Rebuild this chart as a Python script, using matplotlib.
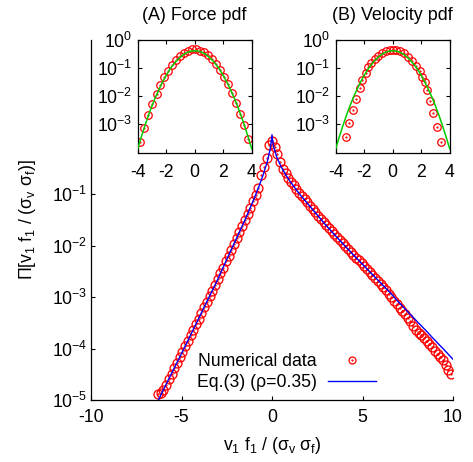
import numpy as np
import matplotlib
matplotlib.use("Agg")
import matplotlib.pyplot as plt
from matplotlib.lines import Line2D
from matplotlib.ticker import NullLocator

plt.rcParams['font.family'] = ['Liberation Sans', 'DejaVu Sans']
plt.rcParams['font.size'] = 12.7
plt.rcParams['axes.unicode_minus'] = False
plt.rcParams['mathtext.default'] = 'regular'

# main panel, log10 of the pdf
# bins are evenly spaced (0.15) from -6.3 to 9.9
bin_x = np.round(np.arange(-42, 67) * 0.15, 2)
data_log = [-4.88, -4.87, -4.80, -4.70, -4.595, -4.49, -4.38, -4.275, -4.17, -4.06,
            -3.955, -3.85, -3.745, -3.635, -3.525, -3.42, -3.31, -3.20, -3.095, -2.985,
            -2.875, -2.765, -2.655, -2.54, -2.43, -2.31, -2.20, -2.085, -1.97, -1.855,
            -1.74, -1.625, -1.51, -1.39, -1.265, -1.145, -1.015, -0.88, -0.64, -0.48,
            -0.30, -0.05, 0.03,
            -0.08, -0.22, -0.37, -0.51, -0.60, -0.68, -0.76, -0.83, -0.90, -0.975,
            -1.04, -1.10, -1.165, -1.23, -1.29, -1.355, -1.42, -1.48, -1.545, -1.61,
            -1.665, -1.725, -1.785, -1.84, -1.90, -1.955, -2.01, -2.07, -2.125, -2.18,
            -2.235, -2.29, -2.345, -2.40, -2.455, -2.51, -2.565, -2.625, -2.685, -2.745,
            -2.81, -2.87, -2.935, -3.0, -3.07, -3.14, -3.21, -3.28, -3.33, -3.40,
            -3.47, -3.56, -3.64, -3.69, -3.74, -3.80, -3.85, -3.91, -3.98, -4.04,
            -4.10, -4.16, -4.23, -4.32, -4.41, -4.50]

eq3_x = [-6.3, -6.0, -5.5, -5.0, -4.5, -4.0, -3.5, -3.0, -2.5, -2.0,
         -1.5, -1.0, -0.75, -0.5, -0.25, -0.1, -0.05, 0.0, 0.05, 0.1,
         0.25, 0.5, 0.75, 1.0, 1.5, 2.0, 2.5, 3.0, 3.5, 4.0,
         4.5, 5.0, 5.5, 6.0, 6.5, 7.0, 7.5, 8.0, 8.5, 9.0, 9.5, 10.0]
eq3_log = [-5.02, -4.80, -4.45, -4.10, -3.74, -3.38, -3.02, -2.66, -2.27, -1.89,
           -1.51, -1.10, -0.88, -0.64, -0.36, -0.125, -0.003, 0.15, 0.014, -0.09,
           -0.273, -0.469, -0.622, -0.755, -0.993, -1.201, -1.407, -1.616, -1.809, -1.998,
           -2.184, -2.365, -2.546, -2.725, -2.905, -3.10, -3.285, -3.47, -3.65, -3.84,
           -4.02, -4.21]

# insets: gaussian reference (green) and measured pdfs (circles)
gauss_x = [-4, -3.75, -3.5, -3.25, -3, -2.75, -2.5, -2.25, -2, -1.75, -1.5, -1.25,
           -1, -0.75, -0.5, -0.25, 0, 0.25, 0.5, 0.75, 1, 1.25, 1.5, 1.75, 2, 2.25,
           2.5, 2.75, 3, 3.25, 3.5, 3.75, 4]
gauss_log = [-3.87, -3.45, -3.06, -2.69, -2.35, -2.04, -1.76, -1.50, -1.27, -1.06,
             -0.89, -0.74, -0.62, -0.52, -0.45, -0.41, -0.40, -0.41, -0.45, -0.52,
             -0.62, -0.74, -0.89, -1.06, -1.27, -1.50, -1.76, -2.04, -2.35, -2.69,
             -3.06, -3.45, -3.87]

force_x = [-3.86, -3.55, -3.25, -2.97, -2.68, -2.40, -2.12, -1.84, -1.56, -1.28,
           -1.00, -0.72, -0.44, -0.16, 0.12, 0.40, 0.68, 0.96, 1.24, 1.52,
           1.80, 2.08, 2.36, 2.64, 2.92, 3.20, 3.48, 3.77]
force_log = [-3.62, -3.12, -2.66, -2.27, -1.92, -1.61, -1.34, -1.10, -0.90, -0.72,
             -0.58, -0.47, -0.39, -0.35, -0.35, -0.39, -0.46, -0.56, -0.70, -0.87,
             -1.07, -1.31, -1.58, -1.89, -2.24, -2.62, -3.04, -3.52]

vel_x = [-3.30, -3.07, -2.79, -2.55, -2.32, -2.13, -1.89, -1.71, -1.50, -1.26,
         -1.03, -0.75, -0.45, -0.17, 0.02, 0.21, 0.49, 0.77, 1.07, 1.38,
         1.66, 1.89, 2.08, 2.25, 2.43, 2.60, 2.83, 3.13, 3.37]
vel_log = [-3.46, -2.96, -2.50, -2.10, -1.73, -1.45, -1.19, -0.99, -0.82, -0.69,
           -0.57, -0.49, -0.41, -0.37, -0.36, -0.37, -0.41, -0.49, -0.61, -0.76,
           -0.93, -1.13, -1.31, -1.52, -1.77, -2.16, -2.59, -3.08, -3.64]

RED = '#ff0000'
BLUE = '#0000ff'
GREEN = '#00cc00'

fig = plt.figure(figsize=(4.73, 4.62), dpi=100)

ax = fig.add_axes([91 / 473, 62 / 462, 362 / 473, 360.5 / 462])
ax.set_yscale('log')
ax.plot(bin_x, 10 ** np.array(data_log), 'o', mfc='none', mec=RED, ms=6.4, mew=0.95, zorder=2)
ax.plot(bin_x, 10 ** np.array(data_log), '.', color=RED, ms=1.2, zorder=2)
ax.plot(eq3_x, 10 ** np.array(eq3_log), color=BLUE, lw=1.0, zorder=3)
ax.set_xlim(-10, 10)
ax.set_ylim(1e-5, 1e2)
ax.set_xticks([-10, -5, 0, 5, 10])
ax.set_yticks([1e-5, 1e-4, 1e-3, 1e-2, 1e-1])
ax.yaxis.set_minor_locator(NullLocator())
ax.spines['top'].set_visible(False)
ax.spines['right'].set_visible(False)
for s in ('left', 'bottom'):
    ax.spines[s].set_linewidth(0.9)
ax.tick_params(direction='in', length=3, width=0.8)
ax.tick_params(axis='x', pad=6.5)
ax.tick_params(axis='y', pad=2.5)

hc = Line2D([], [], ls='none', marker='o', mfc='none', mec=RED, ms=5, mew=0.9)
hd = Line2D([], [], ls='none', marker='.', color=RED, ms=1.2)
hl = Line2D([], [], color=BLUE, lw=1.0)
ax.legend([(hc, hd), hl], ['Numerical data', 'Eq.(3) (ρ=0.35)'],
          loc='center left', bbox_to_anchor=(197 / 473, 1 - 372 / 462),
          bbox_transform=fig.transFigure, frameon=False, markerfirst=False,
          handlelength=2.7, handletextpad=0.65, labelspacing=0.25,
          borderpad=0, borderaxespad=0)

fig.text(28 / 473, 1 - 220 / 462, 'Π[v$_1$ f$_1$ / (σ$_v$ σ$_f$)]',
         rotation=90, ha='center', va='center')
fig.text(272 / 473, 1 - 445 / 462, 'v$_1$ f$_1$ / (σ$_v$ σ$_f$)',
         ha='center', va='center')


def inset(left, title, xs, ys):
    a = fig.add_axes([left / 473, 1 - 152.5 / 462, 114 / 473, 113 / 462])
    a.set_yscale('log')
    a.plot(xs, 10 ** np.array(ys), 'o', mfc='none', mec=RED, ms=5.4, mew=0.9, zorder=2)
    a.plot(xs, 10 ** np.array(ys), '.', color=RED, ms=1.2, zorder=2)
    a.plot(gauss_x, 10 ** np.array(gauss_log), color=GREEN, lw=1.1, zorder=3)
    a.set_xlim(-4, 4)
    a.set_ylim(1e-4, 1)
    a.set_xticks([-4, -2, 0, 2, 4])
    a.set_yticks([1e-3, 1e-2, 1e-1, 1])
    a.yaxis.set_minor_locator(NullLocator())
    for s in a.spines.values():
        s.set_linewidth(0.9)
    a.tick_params(direction='in', length=3, width=0.8, top=True, right=True)
    a.tick_params(axis='x', pad=8)
    a.tick_params(axis='y', pad=4)
    a.set_title(title, pad=14, fontsize=12.9)
    return a


inset(137.7, '(A) Force pdf', force_x, force_log)
inset(335.7, '(B) Velocity pdf', vel_x, vel_log)

fig.savefig('out.png', dpi=100)
